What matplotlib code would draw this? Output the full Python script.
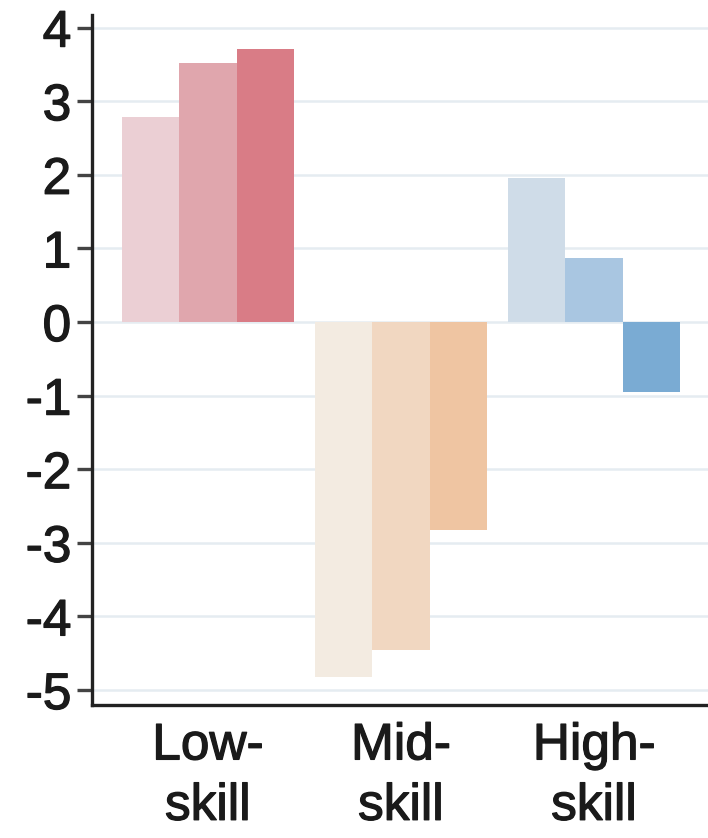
import matplotlib
matplotlib.use("Agg")
import matplotlib.pyplot as plt
import matplotlib.patheffects as pe
import numpy as np

categories = ["Low-\nskill", "Mid-\nskill", "High-\nskill"]
series1 = [2.79, -4.82, 1.96]
series2 = [3.52, -4.46, 0.87]
series3 = [3.71, -2.83, -0.95]
colors = [
    ["#ebcfd4", "#f3ebe1", "#cfdce8"],
    ["#e0a6ad", "#f1d7c1", "#a9c6e1"],
    ["#d97c86", "#efc5a2", "#7aabd3"],
]
yticks = [-5, -4, -3, -2, -1, 0, 1, 2, 3, 4]

plt.rcParams['font.family'] = ['Liberation Sans', 'DejaVu Sans']

fig = plt.figure(figsize=(7.08, 8.38), dpi=100)
ax = fig.add_axes([0.13, 0.159, 0.87, 0.823])

x = np.arange(len(categories))
w = 0.298
for i, vals in enumerate([series1, series2, series3]):
    ax.bar(x + (i - 1) * w, vals, width=w, color=colors[i], zorder=2, linewidth=0)

ax.set_xlim(-0.6, 2.59)
ax.set_ylim(-5.2, 4.17)
ax.set_yticks(yticks)
ax.set_yticklabels([str(t) for t in yticks])
ax.set_xticks(x)
ax.set_xticklabels(categories, linespacing=1.3)

ax.grid(axis='y', color='#e5ecf1', linewidth=1.8, zorder=0)
ax.set_axisbelow(True)
for s in ['top', 'right']:
    ax.spines[s].set_visible(False)
for s in ['left', 'bottom']:
    ax.spines[s].set_linewidth(2.4)
    ax.spines[s].set_color('#222222')

ax.tick_params(axis='y', labelsize=37, length=11, width=2.4, color='#444444', pad=4, labelcolor='#1a1a1a')
ax.tick_params(axis='x', labelsize=37, length=0, pad=12, labelcolor='#1a1a1a')

stroke = [pe.withStroke(linewidth=0.9, foreground='#1a1a1a')]
for lab in ax.get_yticklabels() + ax.get_xticklabels():
    lab.set_path_effects(stroke)

fig.savefig("out.png", dpi=100)
